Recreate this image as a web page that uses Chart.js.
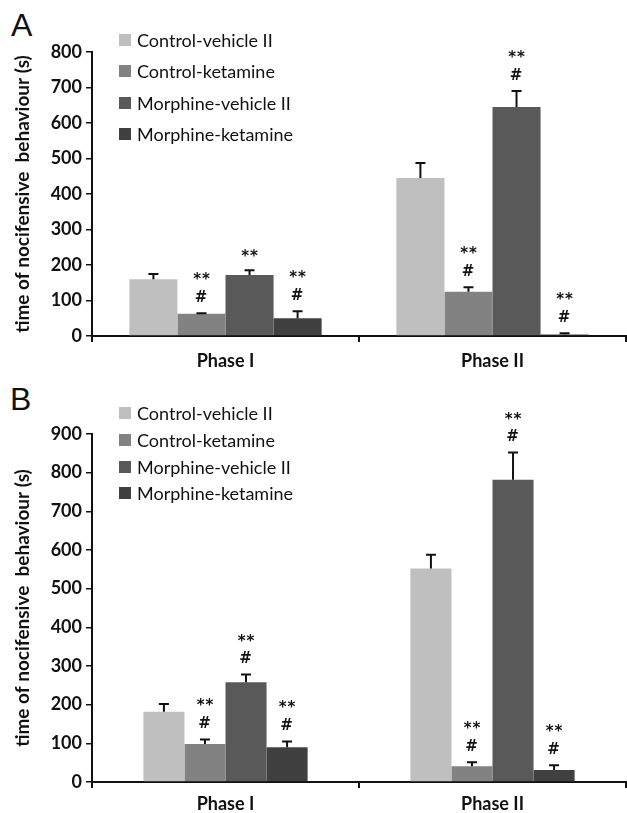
<!DOCTYPE html>
<html>
<head>
<meta charset="utf-8">
<script src="https://cdn.jsdelivr.net/npm/chart.js@4.4.1/dist/chart.umd.min.js"></script>
<style>
  body { margin: 0; background: #fff; width: 627px; height: 813px; position: relative; overflow: hidden; }
  .panel { position: absolute; left: 0; width: 627px; }
  .letter { position: absolute; font-family: "Liberation Sans", Arial, sans-serif; font-size: 32px; line-height: 32px; color: #111; }
  .legend { position: absolute; left: 119px; font-family: Lato, sans-serif; font-size: 18px; color: #111; }
  .legend div { display: flex; align-items: center; }
  .legend span.box { width: 12px; height: 12px; margin-right: 6px; display: inline-block; }
</style>
</head>
<body>
<div class="letter" style="left:11px; top:9px;">A</div>
<div class="letter" style="left:10px; top:383px;">B</div>
<div class="panel" style="top:0; height:372px;"><canvas id="chartA"></canvas></div>
<div class="panel" style="top:375px; height:438px;"><canvas id="chartB"></canvas></div>
<div class="legend" id="legendA" style="top:24px;"></div>
<div class="legend" id="legendB" style="top:400px;"></div>
<script>
const phases = ["Phase I", "Phase II"];
const seriesNames = ["Control-vehicle II", "Control-ketamine", "Morphine-vehicle II", "Morphine-ketamine"];
const colors = ["#bfbfbf", "#828282", "#595959", "#404040"];
const yTitle = "time of nocifensive  behaviour (s)";

// panel A (means, SEM, significance marks) per group
const meansA = [[160, 445], [63, 125], [172, 645], [50, 4]];
const errsA = [[15, 42], [1, 12], [13, 45], [20, 4]];
const marksA = [["", ""], ["**#", "**#"], ["**", "**#"], ["**#", "**#"]];

// panel B
const meansB = [[182, 552], [98, 41], [258, 782], [90, 31]];
const errsB = [[20, 36], [12, 10], [20, 70], [15, 12]];
const marksB = [["", ""], ["**#", "**#"], ["**#", "**#"], ["**#", "**#"]];

const errorBars = {
  id: "errorBars",
  afterDatasetsDraw(chart) {
    const ctx = chart.ctx;
    const y = chart.scales.y;
    ctx.save();
    chart.data.datasets.forEach((ds, i) => {
      const meta = chart.getDatasetMeta(i);
      meta.data.forEach((bar, j) => {
        const top = y.getPixelForValue(ds.data[j] + ds.errors[j]);
        ctx.strokeStyle = "#111";
        ctx.lineWidth = 2;
        ctx.beginPath();
        ctx.moveTo(bar.x, bar.y);
        ctx.lineTo(bar.x, top);
        ctx.moveTo(bar.x - 5, top);
        ctx.lineTo(bar.x + 5, top);
        ctx.stroke();
        const m = ds.marks[j];
        if (!m) return;
        ctx.fillStyle = "#111";
        ctx.textAlign = "center";
        ctx.textBaseline = "alphabetic";
        ctx.font = "bold 15px 'DejaVu Sans'";
        ctx.letterSpacing = "1px";
        if (m.indexOf("#") >= 0) {
          ctx.fillText("#", bar.x, top - 17 + 5.5);
          ctx.fillText("**", bar.x + 0.5, top - 38 + 9);
        } else {
          ctx.fillText("**", bar.x + 0.5, top - 18 + 9);
        }
        ctx.letterSpacing = "0px";
      });
    });
    ctx.restore();
  },
};

function makeChart(id, means, errs, marks, yMax, catPct, padTop, xHeight, labelPad) {
  const datasets = [];
  for (let i = 0; i < seriesNames.length; i++) {
    datasets.push({
      label: seriesNames[i],
      data: means[i],
      errors: errs[i],
      marks: marks[i],
      backgroundColor: colors[i],
      barPercentage: 1,
      categoryPercentage: catPct,
    });
  }
  const config = {
    type: "bar",
    data: { labels: phases, datasets: datasets },
    plugins: [errorBars],
    options: {
      responsive: true,
      maintainAspectRatio: false,
      animation: false,
      layout: { padding: { top: padTop, right: 1, left: 0, bottom: 0 } },
      plugins: { legend: { display: false }, tooltip: { enabled: false } },
      scales: {
        x: {
          afterFit: (s) => { s.height = xHeight; },
          border: { color: "#111", width: 2 },
          grid: { offset: true, drawOnChartArea: false, drawTicks: true, tickLength: 6, color: "#111", lineWidth: 2 },
          ticks: { color: "#111", padding: labelPad, font: { family: "Lato", size: 18, weight: "bold" } },
        },
        y: {
          min: 0,
          max: yMax,
          afterFit: (s) => { s.width = 92; },
          border: { color: "#111", width: 2 },
          grid: { drawOnChartArea: false, drawTicks: true, tickLength: 6, color: "#111", lineWidth: 1.5 },
          ticks: { stepSize: 100, color: "#111", padding: 4, font: { family: "Lato", size: 18, weight: "bold" } },
          title: { display: true, text: yTitle, color: "#111", padding: { top: 11, bottom: 0 }, font: { family: "Lato", size: 19, weight: "bold" } },
        },
      },
    },
  };
  return new Chart(document.getElementById(id), config);
}

function makeLegend(id, rowH) {
  const el = document.getElementById(id);
  seriesNames.forEach((name, i) => {
    const row = document.createElement("div");
    row.style.height = rowH + "px";
    row.innerHTML = '<span class="box" style="background:' + colors[i] + '"></span>' + name;
    el.appendChild(row);
  });
}

makeChart("chartA", meansA, errsA, marksA, 800, 0.72, 52, 36, 8);
makeChart("chartB", meansB, errsB, marksB, 900, 0.615, 59, 31, 5);
makeLegend("legendA", 31.5);
makeLegend("legendB", 26.7);
</script>
</body>
</html>
